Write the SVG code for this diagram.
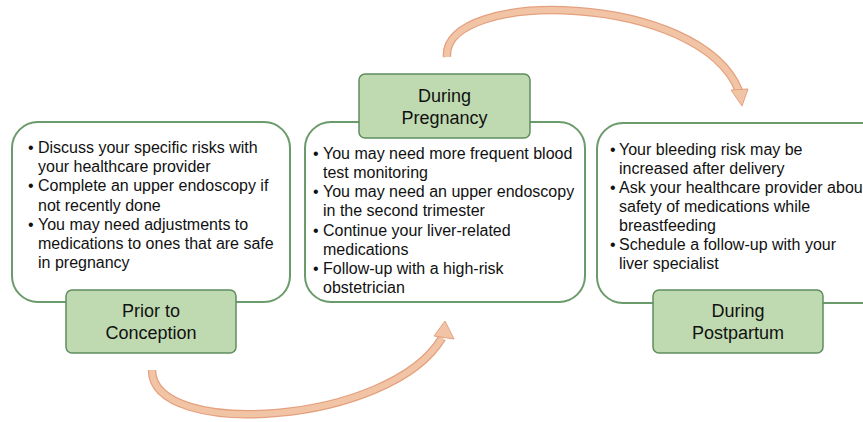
<svg xmlns="http://www.w3.org/2000/svg" width="863" height="422" viewBox="0 0 863 422">
<style>
.box{fill:#fff;stroke:#6b9a6b;stroke-width:2}
.lab{fill:#bfdab0;stroke:#5f8d5f;stroke-width:1.5}
.t{font-family:"Liberation Sans",Arial,sans-serif;font-size:16px;fill:#111}
.lt{font-family:"Liberation Sans",Arial,sans-serif;font-size:18px;fill:#111;text-anchor:middle}
.ao{fill:none;stroke:#e4a17f;stroke-width:8.5}
.ai{fill:none;stroke:#f2c4a6;stroke-width:6}
.ah{fill:#f2c4a6;stroke:#e4a17f;stroke-width:1}
</style>
<rect width="863" height="422" fill="#fff"/>
<g id="connectors">
<path class="ao" d="M152,370 C152,440 390,425 442,338"/>
<path class="ai" d="M152,370 C152,440 390,425 442,338"/>
<polygon class="ah" points="445,321 454,339 434,336"/>
<path class="ao" d="M447,57 C442,-12 700,-8 739,91"/>
<path class="ai" d="M447,57 C442,-12 700,-8 739,91"/>
<polygon class="ah" points="742,106 748,89 731,90"/>
</g>
<g id="prior">
<rect class="box" x="12" y="122" width="278" height="180" rx="26"/>
<text class="t"><tspan x="28" y="153">•</tspan><tspan x="38" y="153">Discuss your specific risks with</tspan><tspan x="38" y="172">your healthcare provider</tspan><tspan x="28" y="191">•</tspan><tspan x="38" y="191">Complete an upper endoscopy if</tspan><tspan x="38" y="211">not recently done</tspan><tspan x="28" y="230">•</tspan><tspan x="38" y="230">You may need adjustments to</tspan><tspan x="38" y="249">medications to ones that are safe</tspan><tspan x="38" y="268">in pregnancy</tspan></text>
<rect class="lab" x="66" y="290" width="170" height="63" rx="6"/>
<text class="lt"><tspan x="151" y="317">Prior to</tspan><tspan x="151" y="339">Conception</tspan></text>
</g>
<g id="pregnancy">
<rect class="box" x="305" y="122" width="280" height="180" rx="26"/>
<text class="t"><tspan x="313" y="159">•</tspan><tspan x="323" y="159">You may need more frequent blood</tspan><tspan x="323" y="178">test monitoring</tspan><tspan x="313" y="197">•</tspan><tspan x="323" y="197">You may need an upper endoscopy</tspan><tspan x="323" y="216">in the second trimester</tspan><tspan x="313" y="236">•</tspan><tspan x="323" y="236">Continue your liver-related</tspan><tspan x="323" y="255">medications</tspan><tspan x="313" y="274">•</tspan><tspan x="323" y="274">Follow-up with a high-risk</tspan><tspan x="323" y="293">obstetrician</tspan></text>
<rect class="lab" x="359" y="74" width="171" height="64" rx="6"/>
<text class="lt"><tspan x="444.5" y="102">During</tspan><tspan x="444.5" y="124">Pregnancy</tspan></text>
</g>
<g id="postpartum">
<rect class="box" x="597" y="123" width="290" height="180" rx="26"/>
<text class="t"><tspan x="610" y="155">•</tspan><tspan x="619" y="155">Your bleeding risk may be</tspan><tspan x="619" y="174">increased after delivery</tspan><tspan x="610" y="193">•</tspan><tspan x="619" y="193">Ask your healthcare provider abou</tspan><tspan x="619" y="212">safety of medications while</tspan><tspan x="619" y="231">breastfeeding</tspan><tspan x="610" y="250">•</tspan><tspan x="619" y="250">Schedule a follow-up with your</tspan><tspan x="619" y="269">liver specialist</tspan></text>
<rect class="lab" x="653" y="290" width="170" height="63" rx="6"/>
<text class="lt"><tspan x="738" y="317">During</tspan><tspan x="738" y="339">Postpartum</tspan></text>
</g>
</svg>
